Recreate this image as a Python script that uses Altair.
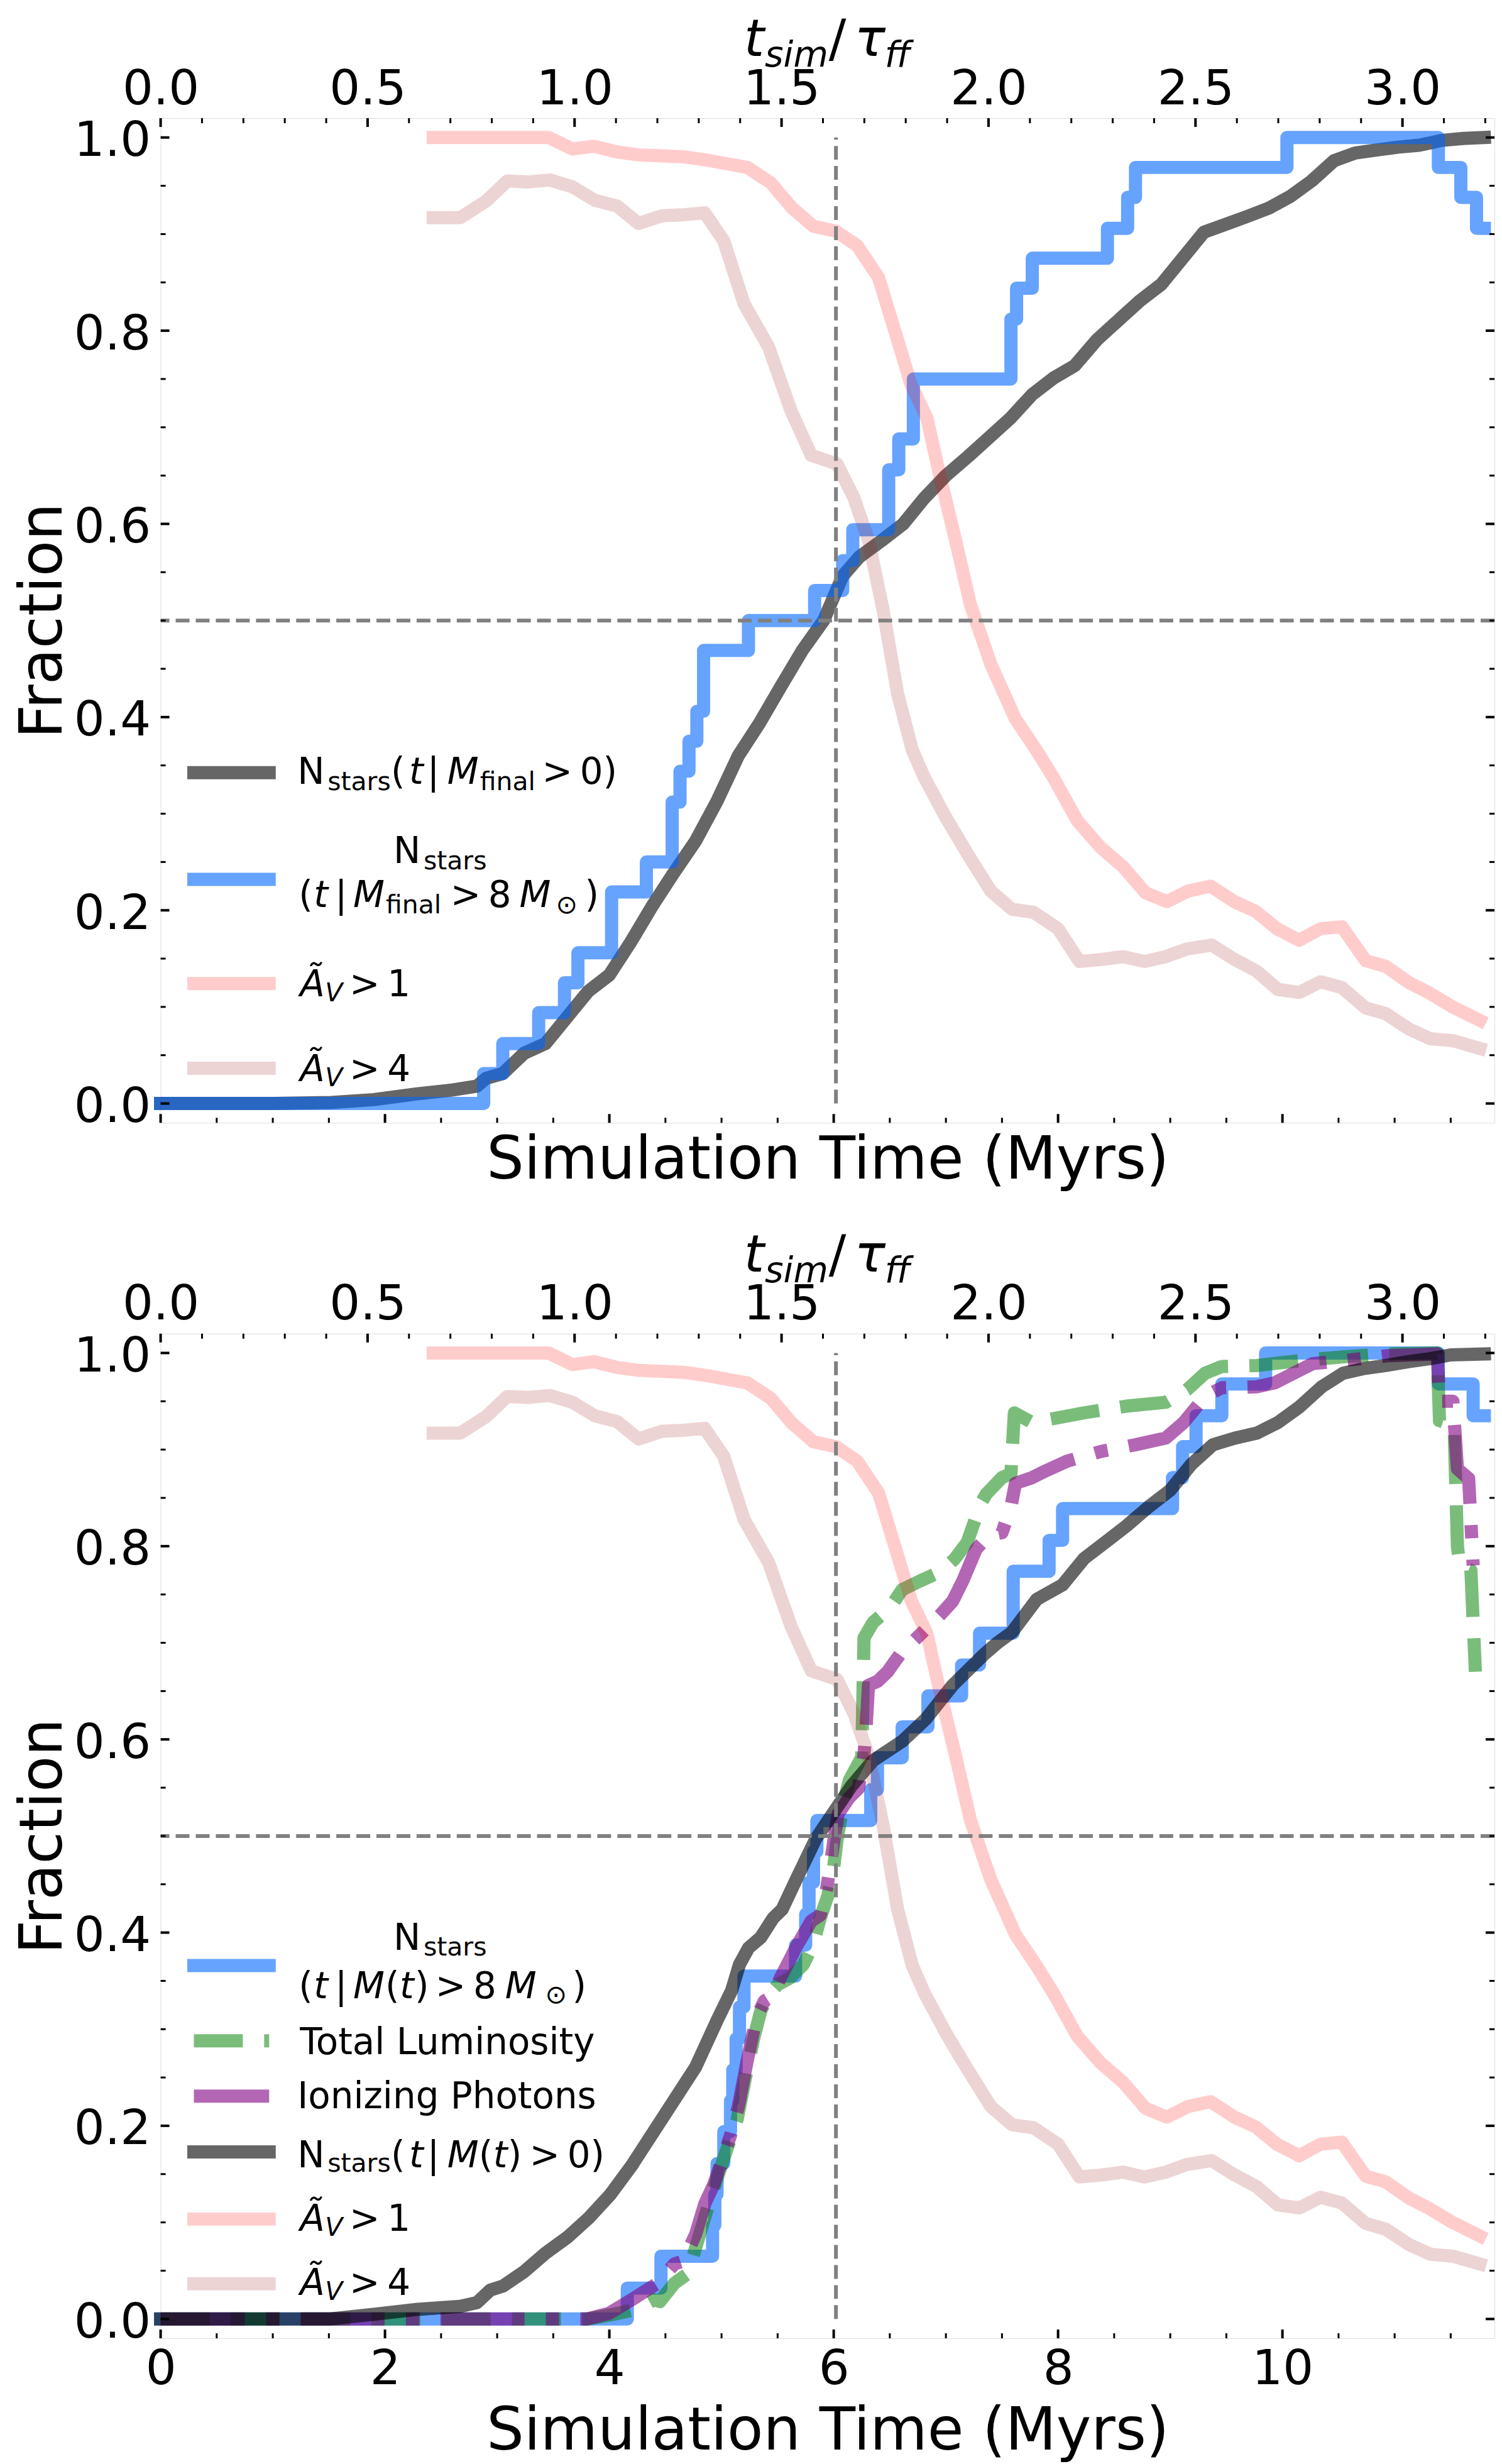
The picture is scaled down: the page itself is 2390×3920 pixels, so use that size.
import altair as alt
import pandas as pd

# ---------------------------------------------------------------- data
TAU_FF_MYR = 3.69          # Myr per free-fall time (top axis)
T_END = 11.89              # right edge of the time axis (Myr)
T_HALF = 6.02              # vertical dashed marker (Myr)
Y_HALF = 0.5               # horizontal dashed marker

# A_V > 1 and A_V > 4 covering fractions (same in both panels)
t_av1 = [2.43, 3.46, 3.67, 3.86, 4.07, 4.26, 4.47, 4.66, 4.85, 5.04, 5.23, 5.44, 5.63, 5.82, 6.02,
         6.21, 6.40, 6.56, 6.69, 6.83, 6.94, 7.08, 7.22, 7.40, 7.62, 7.80, 7.96, 8.17, 8.38, 8.58,
         8.78, 8.97, 9.16, 9.36, 9.57, 9.76, 9.95, 10.15, 10.34, 10.53, 10.74, 10.92, 11.13, 11.30,
         11.50, 11.76]
av1 = [1.0, 1.0, 0.988, 0.991, 0.985, 0.982, 0.981, 0.980, 0.977, 0.973, 0.969, 0.953, 0.927, 0.908,
       0.903, 0.888, 0.855, 0.794, 0.744, 0.710, 0.653, 0.586, 0.516, 0.455, 0.398, 0.367, 0.337,
       0.293, 0.265, 0.245, 0.218, 0.209, 0.220, 0.225, 0.209, 0.199, 0.181, 0.169, 0.181, 0.183,
       0.148, 0.142, 0.125, 0.115, 0.101, 0.086]
t_av4 = [2.43, 2.67, 2.90, 3.09, 3.28, 3.47, 3.67, 3.87, 4.07, 4.26, 4.47, 4.66, 4.85, 5.02, 5.20,
         5.42, 5.62, 5.80, 6.03, 6.18, 6.31, 6.44, 6.57, 6.70, 6.81, 7.00, 7.19, 7.40, 7.59, 7.78,
         8.00, 8.19, 8.38, 8.58, 8.77, 8.96, 9.15, 9.37, 9.56, 9.77, 9.96, 10.15, 10.34, 10.53,
         10.74, 10.92, 11.13, 11.32, 11.52, 11.76]
av4 = [0.917, 0.917, 0.934, 0.955, 0.954, 0.956, 0.949, 0.935, 0.929, 0.911, 0.919, 0.920, 0.922,
       0.893, 0.828, 0.783, 0.717, 0.671, 0.662, 0.627, 0.583, 0.511, 0.424, 0.366, 0.337, 0.296,
       0.259, 0.220, 0.201, 0.198, 0.181, 0.147, 0.149, 0.152, 0.147, 0.152, 0.160, 0.164, 0.150,
       0.137, 0.118, 0.115, 0.126, 0.120, 0.099, 0.093, 0.077, 0.067, 0.065, 0.057]

# top panel: N_stars(t | M_final > 0)
t_nall_top = [0, 1.0, 1.52, 1.90, 2.29, 2.60, 2.82, 2.90, 3.05, 3.24, 3.43, 3.62, 3.81, 4.00, 4.19,
              4.38, 4.57, 4.77, 4.96, 5.15, 5.34, 5.53, 5.72, 5.91, 6.08, 6.23, 6.43, 6.62, 6.81,
              7.00, 7.20, 7.39, 7.58, 7.77, 7.96, 8.15, 8.35, 8.54, 8.73, 8.92, 9.11, 9.30, 9.49,
              9.68, 9.88, 10.07, 10.26, 10.46, 10.65, 10.84, 11.03, 11.22, 11.42, 11.61, 11.80]
nall_top = [0, 0, 0.001, 0.004, 0.010, 0.014, 0.018, 0.026, 0.031, 0.052, 0.062, 0.089, 0.116, 0.133,
            0.167, 0.204, 0.238, 0.272, 0.313, 0.360, 0.394, 0.432, 0.469, 0.500, 0.546, 0.566,
            0.583, 0.600, 0.627, 0.650, 0.670, 0.690, 0.710, 0.734, 0.751, 0.764, 0.791, 0.811,
            0.831, 0.848, 0.875, 0.902, 0.910, 0.918, 0.927, 0.939, 0.955, 0.976, 0.984, 0.987,
            0.990, 0.992, 0.997, 0.999, 1.0]
# top panel: N_stars(t | M_final > 8 Msun)  (steps)
t_n8_top = [0, 2.88, 3.05, 3.37, 3.60, 3.72, 4.02, 4.33, 4.56, 4.63, 4.71, 4.78, 4.84, 5.24, 5.83,
            6.08, 6.17, 6.49, 6.58, 6.71, 7.58, 7.63, 7.77, 8.44, 8.62, 8.69, 10.04, 11.39, 11.59,
            11.73, 11.80]
n8_top = [0, 0.031, 0.062, 0.094, 0.125, 0.156, 0.219, 0.250, 0.312, 0.344, 0.375, 0.406, 0.469,
          0.500, 0.531, 0.562, 0.594, 0.656, 0.688, 0.750, 0.812, 0.844, 0.875, 0.906, 0.938, 0.969,
          1.0, 0.969, 0.938, 0.906, 0.906]

# bottom panel: N_stars(t | M(t) > 8 Msun)  (steps)
t_n8_bot = [0, 4.16, 4.46, 4.92, 4.94, 4.96, 5.02, 5.08, 5.10, 5.13, 5.16, 5.20, 5.66, 5.75, 5.78,
            5.82, 5.85, 6.33, 6.39, 6.61, 6.84, 7.14, 7.30, 7.60, 7.92, 8.04, 9.02, 9.11, 9.23, 9.46,
            9.85, 11.39, 11.70, 11.80]
n8_bot = [0, 0.032, 0.065, 0.097, 0.129, 0.161, 0.194, 0.226, 0.258, 0.290, 0.323, 0.355, 0.387,
          0.419, 0.452, 0.484, 0.516, 0.548, 0.581, 0.613, 0.645, 0.677, 0.710, 0.774, 0.806, 0.839,
          0.871, 0.903, 0.935, 0.968, 1.0, 0.968, 0.935, 0.935]
# bottom panel: total luminosity
t_lum = [0, 3.80, 4.00, 4.24, 4.40, 4.45, 4.58, 4.70, 4.77, 4.85, 4.93, 5.04, 5.14, 5.21, 5.29, 5.35,
         5.42, 5.50, 5.61, 5.67, 5.73, 5.82, 5.88, 5.95, 6.00, 6.03, 6.08, 6.14, 6.22, 6.25, 6.27,
         6.35, 6.50, 6.61, 6.77, 6.96, 7.08, 7.19, 7.31, 7.36, 7.50, 7.58, 7.61, 7.77, 8.00, 8.23,
         8.61, 8.96, 9.15, 9.31, 9.46, 9.77, 10.15, 10.54, 10.92, 11.38, 11.40, 11.53, 11.56, 11.58,
         11.68, 11.72]
lum = [0, 0, 0.004, 0.010, 0.020, 0.018, 0.037, 0.047, 0.074, 0.105, 0.135, 0.173, 0.207, 0.248,
       0.292, 0.319, 0.336, 0.346, 0.353, 0.360, 0.367, 0.389, 0.415, 0.439, 0.468, 0.496, 0.531,
       0.558, 0.575, 0.582, 0.705, 0.721, 0.736, 0.755, 0.764, 0.774, 0.787, 0.804, 0.844, 0.854,
       0.871, 0.875, 0.938, 0.928, 0.933, 0.938, 0.945, 0.949, 0.962, 0.979, 0.986, 0.987, 0.992,
       0.996, 0.999, 1.0, 0.93, 0.925, 0.80, 0.78, 0.775, 0.67]
# bottom panel: ionizing photons
t_ion = [0, 3.80, 4.00, 4.20, 4.43, 4.58, 4.66, 4.77, 4.85, 4.93, 4.96, 5.08, 5.15, 5.23, 5.31, 5.38,
         5.45, 5.52, 5.67, 5.80, 5.88, 5.94, 6.00, 6.04, 6.14, 6.22, 6.27, 6.29, 6.31, 6.39, 6.48,
         6.59, 6.74, 6.95, 7.06, 7.15, 7.27, 7.38, 7.50, 7.58, 7.62, 7.77, 7.89, 8.08, 8.38, 8.69,
         8.96, 9.12, 9.31, 9.46, 9.77, 9.93, 10.15, 10.27, 10.54, 10.92, 11.38, 11.40, 11.52, 11.56,
         11.66, 11.70]
ion = [0, 0, 0.006, 0.020, 0.037, 0.057, 0.060, 0.088, 0.119, 0.139, 0.149, 0.190, 0.220, 0.268,
       0.312, 0.329, 0.334, 0.352, 0.386, 0.412, 0.418, 0.447, 0.494, 0.523, 0.540, 0.549, 0.584,
       0.615, 0.656, 0.660, 0.670, 0.688, 0.705, 0.729, 0.743, 0.764, 0.797, 0.811, 0.814, 0.841,
       0.865, 0.871, 0.878, 0.888, 0.898, 0.905, 0.912, 0.928, 0.955, 0.964, 0.965, 0.969, 0.982,
       0.989, 0.992, 0.997, 0.999, 0.95, 0.95, 0.88, 0.87, 0.78]
# bottom panel: N_stars(t | M(t) > 0)
t_nall_bot = [0, 1.50, 1.91, 2.29, 2.67, 2.82, 2.94, 3.05, 3.24, 3.43, 3.63, 3.82, 4.01, 4.20, 4.39,
              4.58, 4.77, 4.96, 5.09, 5.16, 5.24, 5.35, 5.46, 5.54, 5.67, 5.84, 5.99, 6.16, 6.35,
              6.61, 6.82, 7.06, 7.34, 7.46, 7.59, 7.81, 8.04, 8.23, 8.42, 8.61, 8.81, 9.00, 9.19,
              9.38, 9.58, 9.77, 9.96, 10.15, 10.35, 10.54, 10.73, 10.92, 11.12, 11.31, 11.50, 11.80]
nall_bot = [0, 0, 0.005, 0.010, 0.013, 0.017, 0.030, 0.034, 0.049, 0.068, 0.085, 0.105, 0.129, 0.159,
            0.193, 0.227, 0.261, 0.309, 0.340, 0.367, 0.384, 0.395, 0.415, 0.424, 0.456, 0.497,
            0.523, 0.552, 0.578, 0.598, 0.621, 0.656, 0.688, 0.700, 0.711, 0.745, 0.760, 0.787,
            0.804, 0.821, 0.841, 0.858, 0.885, 0.905, 0.912, 0.917, 0.928, 0.944, 0.965, 0.979,
            0.984, 0.987, 0.991, 0.994, 0.998, 0.999]

# tick positions
x_major = [0, 2, 4, 6, 8, 10]
x_minor = [0.5, 1, 1.5, 2.5, 3, 3.5, 4.5, 5, 5.5, 6.5, 7, 7.5, 8.5, 9, 9.5, 10.5, 11, 11.5]
tau_major = [0.0, 0.5, 1.0, 1.5, 2.0, 2.5, 3.0]
tau_minor = [0.1, 0.2, 0.3, 0.4, 0.6, 0.7, 0.8, 0.9, 1.1, 1.2, 1.3, 1.4, 1.6, 1.7, 1.8, 1.9,
             2.1, 2.2, 2.3, 2.4, 2.6, 2.7, 2.8, 2.9, 3.1, 3.2]
y_major = [0.0, 0.2, 0.4, 0.6, 0.8, 1.0]
y_minor = [0.05, 0.1, 0.15, 0.25, 0.3, 0.35, 0.45, 0.5, 0.55, 0.65, 0.7, 0.75, 0.85, 0.9, 0.95]

# ---------------------------------------------------------------- styling
FONT = "DejaVu Sans"
W, H = 2126, 1601
LW = 21
LEG, SUB = 58, 41
TT, TS = 82, 57            # top-axis title: main / subscript font sizes
THIN = "\u2009"
C_BLACK, O_BLACK = "black", 0.6
C_BLUE, O_BLUE = "#0066ff", 0.6
C_RED, O_RED = "red", 0.2
C_BROWN, O_BROWN = "brown", 0.2
C_GREEN, O_GREEN = "green", 0.52
C_PURPLE, O_PURPLE = "purple", 0.6
DASH_LUM = [78, 34]
DASH_ION = [134, 34, 21, 34]

xscale = alt.Scale(domain=[0, T_END], nice=False, zero=False)
tscale = alt.Scale(domain=[0, T_END / TAU_FF_MYR], nice=False, zero=False)
yscale = alt.Scale(domain=[-0.02, 1.02], nice=False, zero=False)
ONE = pd.DataFrame({"k": [0]})


def x_axis(with_labels):
    return alt.Axis(values=x_major, labels=with_labels, format="d", labelFont=FONT,
                    labelFontSize=77, labelColor="black", labelPadding=12, labelBaseline="top",
                    labelFlush=False, labelOverlap=False, ticks=False, domain=False, grid=False,
                    title="Simulation Time (Myrs)", titleFont=FONT, titleFontSize=94,
                    titleFontWeight="normal", titleColor="black",
                    titlePadding=15 if with_labels else 14)


Y_AXIS = alt.Axis(values=y_major, format=".1f", labelFont=FONT, labelFontSize=77,
                  labelColor="black", labelPadding=16, labelOffset=6, labelFlush=False,
                  labelOverlap=False, ticks=False, domain=False, grid=False, title="Fraction",
                  titleFont=FONT, titleFontSize=94, titleFontWeight="normal", titleColor="black",
                  titlePadding=0)

TAU_AXIS = alt.Axis(orient="top", values=tau_major, format=".1f", labelFont=FONT,
                    labelFontSize=77, labelColor="black", labelPadding=7, labelFlush=False,
                    labelOverlap=False, ticks=False, domain=False, grid=False, title="")


def series(t, v, color, op, XA, dash=None, interp="linear"):
    df = pd.DataFrame({"t": t, "v": v, "i": list(range(len(t)))})
    props = dict(color=color, opacity=op, strokeWidth=LW, interpolate=interp,
                 strokeJoin="round", strokeCap="butt" if dash else "square")
    if dash:
        props["strokeDash"] = dash
    return alt.Chart(df).mark_line(**props).encode(
        x=alt.X("t:Q", scale=xscale, axis=XA),
        y=alt.Y("v:Q", scale=yscale, axis=Y_AXIS),
        order=alt.Order("i:Q"))


def ref_lines(XA):
    h = alt.Chart(pd.DataFrame({"v": [Y_HALF]})).mark_rule(
        color="gray", strokeWidth=6, strokeDash=[22, 10]).encode(
        y=alt.Y("v:Q", scale=yscale, axis=Y_AXIS))
    v = alt.Chart(pd.DataFrame({"t": [T_HALF], "v0": [0.0], "v1": [1.0]})).mark_rule(
        color="gray", strokeWidth=6, strokeDash=[22, 10]).encode(
        x=alt.X("t:Q", scale=xscale, axis=XA),
        y=alt.Y("v0:Q", scale=yscale, axis=Y_AXIS), y2="v1:Q")
    return [h, v]


def tick_layers(XA):
    out = []
    for vals, L, w in [(x_major, 14, 4), (x_minor, 8, 3)]:
        out.append(alt.Chart(pd.DataFrame({"t": vals})).mark_rule(color="black", strokeWidth=w)
                   .encode(x=alt.X("t:Q", scale=xscale, axis=XA), y=alt.value(H),
                           y2=alt.value(H - L)))
    for vals, L, w in [(y_major, 14, 4), (y_minor, 8, 3)]:
        for x0, x1 in [(0, L), (W, W - L)]:
            out.append(alt.Chart(pd.DataFrame({"v": vals})).mark_rule(color="black", strokeWidth=w)
                       .encode(y=alt.Y("v:Q", scale=yscale, axis=Y_AXIS), x=alt.value(x0),
                               x2=alt.value(x1)))
    return out


def tau_layer():
    parts = []
    for vals, L, w in [(tau_major, 14, 4), (tau_minor, 8, 3)]:
        parts.append(alt.Chart(pd.DataFrame({"tau": vals})).mark_rule(color="black", strokeWidth=w)
                     .encode(x=alt.X("tau:Q", scale=tscale, axis=TAU_AXIS), y=alt.value(0),
                             y2=alt.value(L)))
    return alt.layer(*parts)


def frag(s, x, y, size, italic=False):
    return alt.Chart(ONE).mark_text(
        text=s, font=FONT, fontSize=size, fontStyle="italic" if italic else "normal",
        align="left", baseline="alphabetic", color="black").encode(
        x=alt.value(x), y=alt.value(y))


def sample(y, color, op, dash=None):
    props = dict(color=color, opacity=op, strokeWidth=LW, strokeCap="butt" if dash else "square")
    if dash:
        props["strokeDash"] = dash
    return alt.Chart(ONE).mark_rule(**props).encode(x=alt.value(53), x2=alt.value(173),
                                                    y=alt.value(y))


def av_label(thr, yb):
    return [frag("Ã", 222, yb, LEG, True), frag("V", 262, yb + 8, SUB, True),
            frag(">" + THIN + thr, 301, yb, LEG)]


def tau_title():
    return [frag("t", 930, -99, TT, True), frag("sim", 963, -82, TS, True),
            frag("/", 1065, -99, TT), frag("τ", 1106, -99, TT, True),
            frag("ff", 1154, -82, TS, True)]


# ---------------------------------------------------------------- top panel
XA_TOP = x_axis(False)
top_series = [
    series(t_nall_top, nall_top, C_BLACK, O_BLACK, XA_TOP),
    series(t_n8_top, n8_top, C_BLUE, O_BLUE, XA_TOP, interp="step-after"),
    series(t_av1, av1, C_RED, O_RED, XA_TOP),
    series(t_av4, av4, C_BROWN, O_BROWN, XA_TOP),
]
yb1, yb2a, yb2b = 1061, 1187, 1257
top_legend = [
    sample(1043, C_BLACK, O_BLACK), sample(1213, C_BLUE, O_BLUE),
    sample(1379, C_RED, O_RED), sample(1514, C_BROWN, O_BROWN),
    frag("N", 218, yb1, LEG), frag("stars", 266, yb1 + 10, SUB), frag("(", 367, yb1, LEG),
    frag("t", 396, yb1, LEG, True), frag("|", 425, yb1, LEG), frag("M", 457, yb1, LEG, True),
    frag("final", 509, yb1 + 10, SUB), frag(">" + THIN + "0)", 608, yb1, LEG),
    frag("N", 371, yb2a, LEG), frag("stars", 419, yb2a + 10, SUB),
    frag("(", 220, yb2b, LEG), frag("t", 244, yb2b, LEG, True), frag("|", 278, yb2b, LEG),
    frag("M", 307, yb2b, LEG, True), frag("final", 359, yb2b + 10, SUB),
    frag(">" + THIN + "8", 462, yb2b, LEG), frag("M", 572, yb2b, LEG, True),
    frag("⊙", 630, yb2b + 10, SUB), frag(")", 676, yb2b, LEG),
] + av_label("1", 1399) + av_label("4", 1535) + tau_title()

inner_top = alt.layer(*(top_series + ref_lines(XA_TOP) + tick_layers(XA_TOP) + top_legend))
top = alt.layer(inner_top, tau_layer()).resolve_scale(x="independent").properties(
    width=W, height=H)

# ---------------------------------------------------------------- bottom panel
XA_BOT = x_axis(True)
bot_series = [
    series(t_n8_bot, n8_bot, C_BLUE, O_BLUE, XA_BOT, interp="step-after"),
    series(t_lum, lum, C_GREEN, O_GREEN, XA_BOT, dash=DASH_LUM),
    series(t_ion, ion, C_PURPLE, O_PURPLE, XA_BOT, dash=DASH_ION),
    series(t_nall_bot, nall_bot, C_BLACK, O_BLACK, XA_BOT),
    series(t_av1, av1, C_RED, O_RED, XA_BOT),
    series(t_av4, av4, C_BROWN, O_BROWN, XA_BOT),
]
ya, yb, yc = 982, 1059, 1328
bot_legend = [
    sample(1007, C_BLUE, O_BLUE), sample(1127, C_GREEN, O_GREEN, DASH_LUM),
    sample(1215, C_PURPLE, O_PURPLE, DASH_ION), sample(1304, C_BLACK, O_BLACK),
    sample(1411, C_RED, O_RED), sample(1514, C_BROWN, O_BROWN),
    frag("N", 371, ya, LEG), frag("stars", 419, ya + 9, SUB),
    frag("(", 220, yb, LEG), frag("t", 244, yb, LEG, True), frag("|", 278, yb, LEG),
    frag("M", 307, yb, LEG, True), frag("(", 358, yb, LEG), frag("t", 381, yb, LEG, True),
    frag(")", 405, yb, LEG), frag(">" + THIN + "8", 438, yb, LEG),
    frag("M", 549, yb, LEG, True), frag("⊙", 613, yb + 8, SUB), frag(")", 656, yb, LEG),
    frag("Total Luminosity", 222, 1148, LEG),
    frag("Ionizing Photons", 218, 1234, LEG),
    frag("N", 218, yc, LEG), frag("stars", 266, yc + 8, SUB), frag("(", 367, yc, LEG),
    frag("t", 396, yc, LEG, True), frag("|", 425, yc, LEG), frag("M", 457, yc, LEG, True),
    frag("(", 507, yc, LEG), frag("t", 530, yc, LEG, True), frag(")", 553, yc, LEG),
    frag(">" + THIN + "0)", 588, yc, LEG),
] + av_label("1", 1430) + av_label("4", 1532) + tau_title()

inner_bot = alt.layer(*(bot_series + ref_lines(XA_BOT) + tick_layers(XA_BOT) + bot_legend))
bottom = alt.layer(inner_bot, tau_layer()).resolve_scale(x="independent").properties(
    width=W, height=H)

chart = alt.vconcat(top, bottom, spacing=62).configure_view(
    stroke="black", strokeWidth=4.5).configure(font=FONT).properties(
    padding={"left": 14, "top": 11, "right": 0, "bottom": 0}, background="white")

chart.save("out.html", embed_options={"renderer": "svg", "actions": False})
